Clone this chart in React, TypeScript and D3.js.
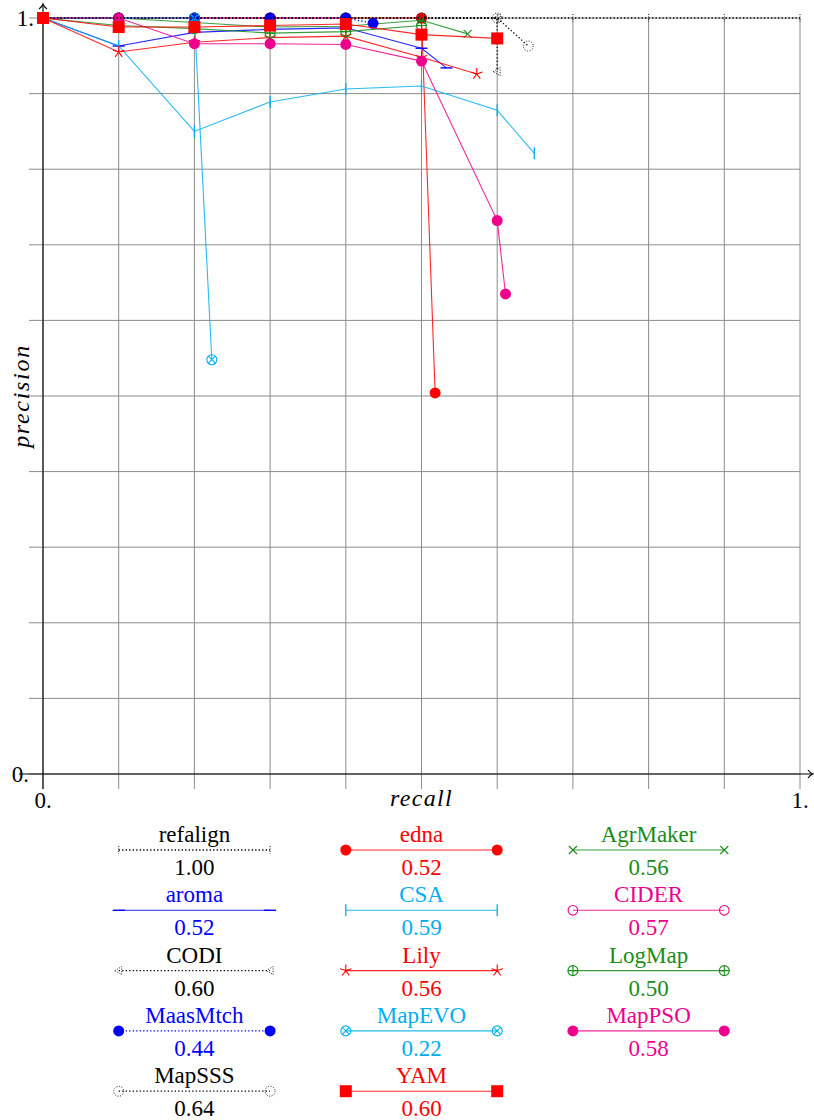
import React from "react";
import { scaleLinear, line } from "d3";

// recall / precision points
const refalign = [[0, 1], [0.1, 1], [0.2, 1], [0.3, 1], [0.4, 1], [0.5, 1], [0.6, 1], [0.7, 1], [0.8, 1], [0.9, 1], [1, 1]];
const edna = [[0, 1], [0.1, 1], [0.2, 1], [0.3, 1], [0.4, 1], [0.5, 1], [0.518, 0.504]];
const agrmaker = [[0, 1], [0.1, 1], [0.2, 0.994], [0.3, 0.988], [0.4, 0.989], [0.5, 0.997], [0.561, 0.979]];
const aroma = [[0, 1], [0.1, 0.963], [0.2, 0.981], [0.3, 0.985], [0.4, 0.987], [0.5, 0.96], [0.533, 0.934]];
const csa = [[0, 1], [0.1, 0.963], [0.2, 0.85], [0.3, 0.889], [0.4, 0.906], [0.5, 0.91], [0.6, 0.878], [0.649, 0.821]];
const cider = [[0, 1], [0.1, 1], [0.2, 1], [0.3, 1], [0.4, 1]];
const codi = [[0, 1], [0.1, 1], [0.2, 1], [0.3, 1], [0.4, 1], [0.5, 1], [0.6, 1], [0.6, 0.929]];
const lily = [[0, 1], [0.1, 0.955], [0.2, 0.968], [0.3, 0.974], [0.4, 0.976], [0.5, 0.948], [0.573, 0.926]];
const logmap = [[0, 1], [0.1, 0.99], [0.2, 0.986], [0.3, 0.98], [0.4, 0.982], [0.5, 0.99]];
const maasmtch = [[0, 1], [0.1, 1], [0.2, 1], [0.3, 1], [0.4, 1], [0.436, 0.993]];
const mapevo = [[0, 1], [0.1, 1], [0.2, 1], [0.223, 0.548]];
const mappso = [[0, 1], [0.1, 1], [0.2, 0.966], [0.3, 0.966], [0.4, 0.965], [0.5, 0.943], [0.6, 0.732], [0.611, 0.635]];
const mapsss = [[0, 1], [0.1, 1], [0.2, 1], [0.3, 1], [0.4, 1], [0.5, 1], [0.6, 1], [0.641, 0.963]];
const yam = [[0, 1], [0.1, 0.988], [0.2, 0.988], [0.3, 0.99], [0.4, 0.992], [0.5, 0.978], [0.6, 0.973]];

const names = ["refalign", "edna", "AgrMaker", "aroma", "CSA", "CIDER", "CODI", "Lily", "LogMap", "MaasMtch", "MapEVO", "MapPSO", "MapSSS", "YAM"];
const scores = ["1.00", "0.52", "0.56", "0.52", "0.59", "0.57", "0.60", "0.56", "0.50", "0.44", "0.22", "0.58", "0.64", "0.60"];
const curves = [refalign, edna, agrmaker, aroma, csa, cider, codi, lily, logmap, maasmtch, mapevo, mappso, mapsss, yam];

const axisTicks = [0, 0.1, 0.2, 0.3, 0.4, 0.5, 0.6, 0.7, 0.8, 0.9, 1];

const RED = "#ff0000";
const GREEN = "#1a8c1a";
const BLUE = "#0000ff";
const CYAN = "#00aeef";
const MAGENTA = "#ec008c";
const BLACK = "#000000";

const styles = [
  { color: BLACK, mark: "tick", dotted: true },
  { color: RED, mark: "dot", dotted: false },
  { color: GREEN, mark: "x", dotted: false },
  { color: BLUE, mark: "dash", dotted: false },
  { color: CYAN, mark: "bar", dotted: false },
  { color: MAGENTA, mark: "ring", dotted: false },
  { color: BLACK, mark: "tri", dotted: true },
  { color: RED, mark: "star", dotted: false },
  { color: GREEN, mark: "oplus", dotted: false },
  { color: BLUE, mark: "dot", dotted: true },
  { color: CYAN, mark: "otimes", dotted: false },
  { color: MAGENTA, mark: "dot", dotted: false },
  { color: BLACK, mark: "dring", dotted: true },
  { color: RED, mark: "square", dotted: false },
];

const W = 814;
const H = 1120;
const x = scaleLinear().domain([0, 1]).range([43, 800]);
const y = scaleLinear().domain([0, 1]).range([774, 18]);
const serif = "'Liberation Serif', 'DejaVu Serif', serif";
const DOT = "1.3 2.2";
const FS = 23;

const Mark = ({ cx, cy, type, color }) => {
  const sw = 1.1;
  switch (type) {
    case "dot":
      return <circle cx={cx} cy={cy} r={5.5} fill={color} />;
    case "ring":
      return <circle cx={cx} cy={cy} r={4.8} fill="none" stroke={color} strokeWidth={sw} />;
    case "square":
      return <rect x={cx - 6} y={cy - 6} width={12} height={12} fill={color} />;
    case "x":
      return (
        <path d={`M${cx - 4},${cy - 4}L${cx + 4},${cy + 4}M${cx - 4},${cy + 4}L${cx + 4},${cy - 4}`} stroke={color} strokeWidth={sw} />
      );
    case "bar":
      return <path d={`M${cx},${cy - 6}V${cy + 6}`} stroke={color} strokeWidth={1.3} />;
    case "dash":
      return <path d={`M${cx - 6},${cy}H${cx + 6}`} stroke={color} strokeWidth={1.4} />;
    case "star": {
      let d = "";
      for (let i = 0; i < 5; i++) {
        const a = (-90 + i * 72) * (Math.PI / 180);
        d += `M${cx},${cy}L${cx + 6 * Math.cos(a)},${cy + 6 * Math.sin(a)}`;
      }
      return <path d={d} stroke={color} strokeWidth={sw} />;
    }
    case "oplus":
      return (
        <g stroke={color} strokeWidth={sw} fill="none">
          <circle cx={cx} cy={cy} r={5} />
          <path d={`M${cx - 5},${cy}H${cx + 5}M${cx},${cy - 5}V${cy + 5}`} />
        </g>
      );
    case "otimes": {
      const k = 3.5;
      return (
        <g stroke={color} strokeWidth={sw} fill="none">
          <circle cx={cx} cy={cy} r={5} />
          <path d={`M${cx - k},${cy - k}L${cx + k},${cy + k}M${cx - k},${cy + k}L${cx + k},${cy - k}`} />
        </g>
      );
    }
    case "tri":
      return (
        <path
          d={`M${cx - 4},${cy}L${cx + 3},${cy - 4}L${cx + 3},${cy + 4}Z`}
          fill="none"
          stroke={color}
          strokeWidth={0.9}
          strokeDasharray="1 1.5"
        />
      );
    case "dring":
      return <circle cx={cx} cy={cy} r={5} fill="none" stroke={color} strokeWidth={0.9} strokeDasharray="1 1.6" />;
    case "tick":
      return <path d={`M${cx},${cy - 4}V${cy + 4}`} stroke={color} strokeWidth={0.9} strokeDasharray="1 1.5" />;
    default:
      return null;
  }
};

const path = line()
  .x((d) => x(d[0]))
  .y((d) => y(d[1]));

const App = () => {
  const colCenters = [0.2, 0.5, 0.8];
  const half = 0.1;
  const rowY = (i) => 850 + Math.floor(i / 3) * 60.3;

  return (
    <svg width={W} height={H} style={{ position: "absolute", left: 0, top: 0, background: "white" }} fontFamily={serif}>
      {/* grid */}
      <g stroke="#8c8c8c" strokeWidth={1}>
        {axisTicks.map((t) => (
          <line key={"h" + t} x1={29} x2={x(1)} y1={y(t)} y2={y(t)} />
        ))}
        {axisTicks.map((t) => (
          <line key={"v" + t} x1={x(t)} x2={x(t)} y1={y(1)} y2={789} />
        ))}
      </g>
      {/* axes */}
      <g stroke="black" strokeWidth={1.1} fill="none">
        <line x1={19} x2={812} y1={y(0)} y2={y(0)} />
        <path d={`M${808},${y(0) - 4}Q${810},${y(0) - 1} ${813},${y(0)}Q${810},${y(0) + 1} ${808},${y(0) + 4}`} />
        <line x1={x(0)} x2={x(0)} y1={789} y2={5} />
        <path d={`M${x(0) - 4},${9}Q${x(0) - 1},${7} ${x(0)},${4}Q${x(0) + 1},${7} ${x(0) + 4},${9}`} />
      </g>
      <g fontSize={FS}>
        <text x={34} y={y(1) + 8} textAnchor="end">1.</text>
        <text x={29} y={y(0) + 8} textAnchor="end">0.</text>
        <text x={x(0)} y={y(0) + 34} textAnchor="middle">0.</text>
        <text x={x(1)} y={y(0) + 34} textAnchor="middle">1.</text>
        <text x={x(0.5)} y={y(0) + 32} textAnchor="middle" fontStyle="italic" fontSize={24} letterSpacing={1.3}>recall</text>
        <text transform={`translate(29,${y(0.5)}) rotate(-90)`} textAnchor="middle" fontStyle="italic" fontSize={24} letterSpacing={1.7}>precision</text>
      </g>
      {/* curves */}
      {curves.map((c, i) => {
        const s = styles[i];
        return (
          <g key={names[i]}>
            <path
              d={path(c)}
              fill="none"
              stroke={s.color}
              strokeOpacity={s.dotted ? 1 : 0.85}
              strokeWidth={s.dotted ? 1.3 : 1.1}
              strokeDasharray={s.dotted ? DOT : undefined}
            />
            {c.map((p, j) => (
              <Mark key={j} cx={x(p[0])} cy={y(p[1])} type={s.mark} color={s.color} />
            ))}
          </g>
        );
      })}
      {/* legend */}
      {names.map((n, i) => {
        const s = styles[i];
        const c = colCenters[i % 3];
        const ly = rowY(i);
        const x1 = x(c - half);
        const x2 = x(c + half);
        return (
          <g key={"lg" + n}>
            <text x={x(c)} y={ly - 8} textAnchor="middle" fontSize={FS} fill={s.color}>{n}</text>
            <line
              x1={x1}
              x2={x2}
              y1={ly}
              y2={ly}
              stroke={s.color}
              strokeOpacity={s.dotted ? 1 : 0.85}
              strokeWidth={s.dotted ? 1.3 : 1.1}
              strokeDasharray={s.dotted ? DOT : undefined}
            />
            <Mark cx={x1} cy={ly} type={s.mark} color={s.color} />
            <Mark cx={x2} cy={ly} type={s.mark} color={s.color} />
            <text x={x(c)} y={ly + 25} textAnchor="middle" fontSize={FS} fill={s.color}>{scores[i]}</text>
          </g>
        );
      })}
    </svg>
  );
};

export default App;
